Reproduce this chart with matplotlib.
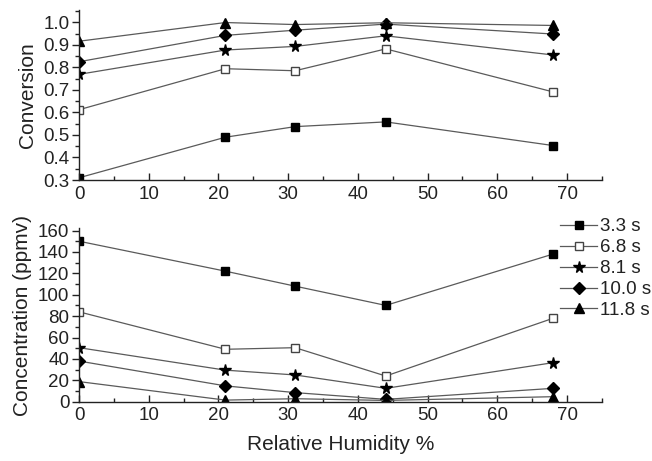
import matplotlib
matplotlib.use("Agg")
import matplotlib.pyplot as plt
from matplotlib.ticker import MultipleLocator

plt.rcParams['font.family'] = ['Liberation Sans', 'DejaVu Sans']

humidity = [0, 21, 31, 44, 68]
labels = ["3.3 s", "6.8 s", "8.1 s", "10.0 s", "11.8 s"]
conversion = {
    "3.3 s": [0.31, 0.49, 0.537, 0.558, 0.453],
    "6.8 s": [0.612, 0.794, 0.785, 0.882, 0.691],
    "8.1 s": [0.769, 0.877, 0.893, 0.94, 0.855],
    "10.0 s": [0.825, 0.942, 0.965, 0.992, 0.948],
    "11.8 s": [0.916, 0.999, 0.99, 0.998, 0.986],
}
concentration = {
    "3.3 s": [150, 122, 108, 90, 138],
    "6.8 s": [84, 49, 50.5, 24, 78],
    "8.1 s": [50.5, 29.5, 25, 12.5, 36.5],
    "10.0 s": [38, 14.8, 8.5, 2.2, 12.5],
    "11.8 s": [18.8, 1.5, 2.8, 1.2, 4.7],
}

styles = {
    "3.3 s": dict(marker='s', ms=5.5, mfc='black', mec='black'),
    "6.8 s": dict(marker='s', ms=5.5, mfc='white', mec='#444444', mew=1.0),
    "8.1 s": dict(marker='*', ms=8.5, mfc='black', mec='black'),
    "10.0 s": dict(marker='D', ms=6, mfc='black', mec='black'),
    "11.8 s": dict(marker='^', ms=7, mfc='black', mec='black'),
}
line_color = '#5a5a5a'

fig = plt.figure(figsize=(6.52, 4.61), dpi=100)
ax1 = fig.add_axes([0.1212, 0.6095, 0.802, 0.369])
ax2 = fig.add_axes([0.1212, 0.1286, 0.802, 0.376])

for lab in labels:
    ax1.plot(humidity, conversion[lab], color=line_color, lw=0.9, clip_on=True, **styles[lab])
    ax2.plot(humidity, concentration[lab], color=line_color, lw=0.9, clip_on=True, label=lab, **styles[lab])

ax1.set_xlim(0, 75)
ax1.set_ylim(0.3, 1.055)
ax2.set_xlim(0, 75)
ax2.set_ylim(0, 162)

ax1.set_yticks([0.3, 0.4, 0.5, 0.6, 0.7, 0.8, 0.9, 1.0])
ax1.set_yticklabels(["0.3", "0.4", "0.5", "0.6", "0.7", "0.8", "0.9", "1.0"])
ax1.yaxis.set_minor_locator(MultipleLocator(0.05))
ax2.set_yticks(range(0, 161, 20))
ax2.yaxis.set_minor_locator(MultipleLocator(10))
for ax in (ax1, ax2):
    ax.set_xticks(range(0, 71, 10))
    ax.xaxis.set_minor_locator(MultipleLocator(5))
    ax.spines['top'].set_visible(False)
    ax.spines['right'].set_visible(False)
    for s in ('left', 'bottom'):
        ax.spines[s].set_linewidth(1.0)
        ax.spines[s].set_color('#222222')
        ax.spines[s].set_zorder(3)
    ax.tick_params(axis='x', which='major', direction='in', length=5, width=1.0, labelsize=13.5, pad=4, colors='#222222')
    ax.tick_params(axis='x', which='minor', direction='in', length=3, width=1.0, colors='#222222')
    ax.tick_params(axis='y', which='major', direction='out', length=5, width=1.0, labelsize=13.5, pad=2, colors='#222222')
    ax.tick_params(axis='y', which='minor', direction='out', length=3, width=1.0, colors='#222222')

ax1.set_ylabel("Conversion", fontsize=15, color='#222222', labelpad=4)
ax2.set_ylabel("Concentration (ppmv)", fontsize=15, color='#222222', labelpad=4)
ax2.set_xlabel("Relative Humidity %", fontsize=15, color='#222222', labelpad=8)

leg = ax2.legend(loc='upper left', bbox_to_anchor=(0.9195, 1.058), frameon=False,
                 fontsize=13.5, handlelength=2.0, handletextpad=0.15,
                 labelspacing=0.2, borderaxespad=0, borderpad=0)
for t in leg.get_texts():
    t.set_color('#222222')

fig.savefig("out.png", dpi=100)
